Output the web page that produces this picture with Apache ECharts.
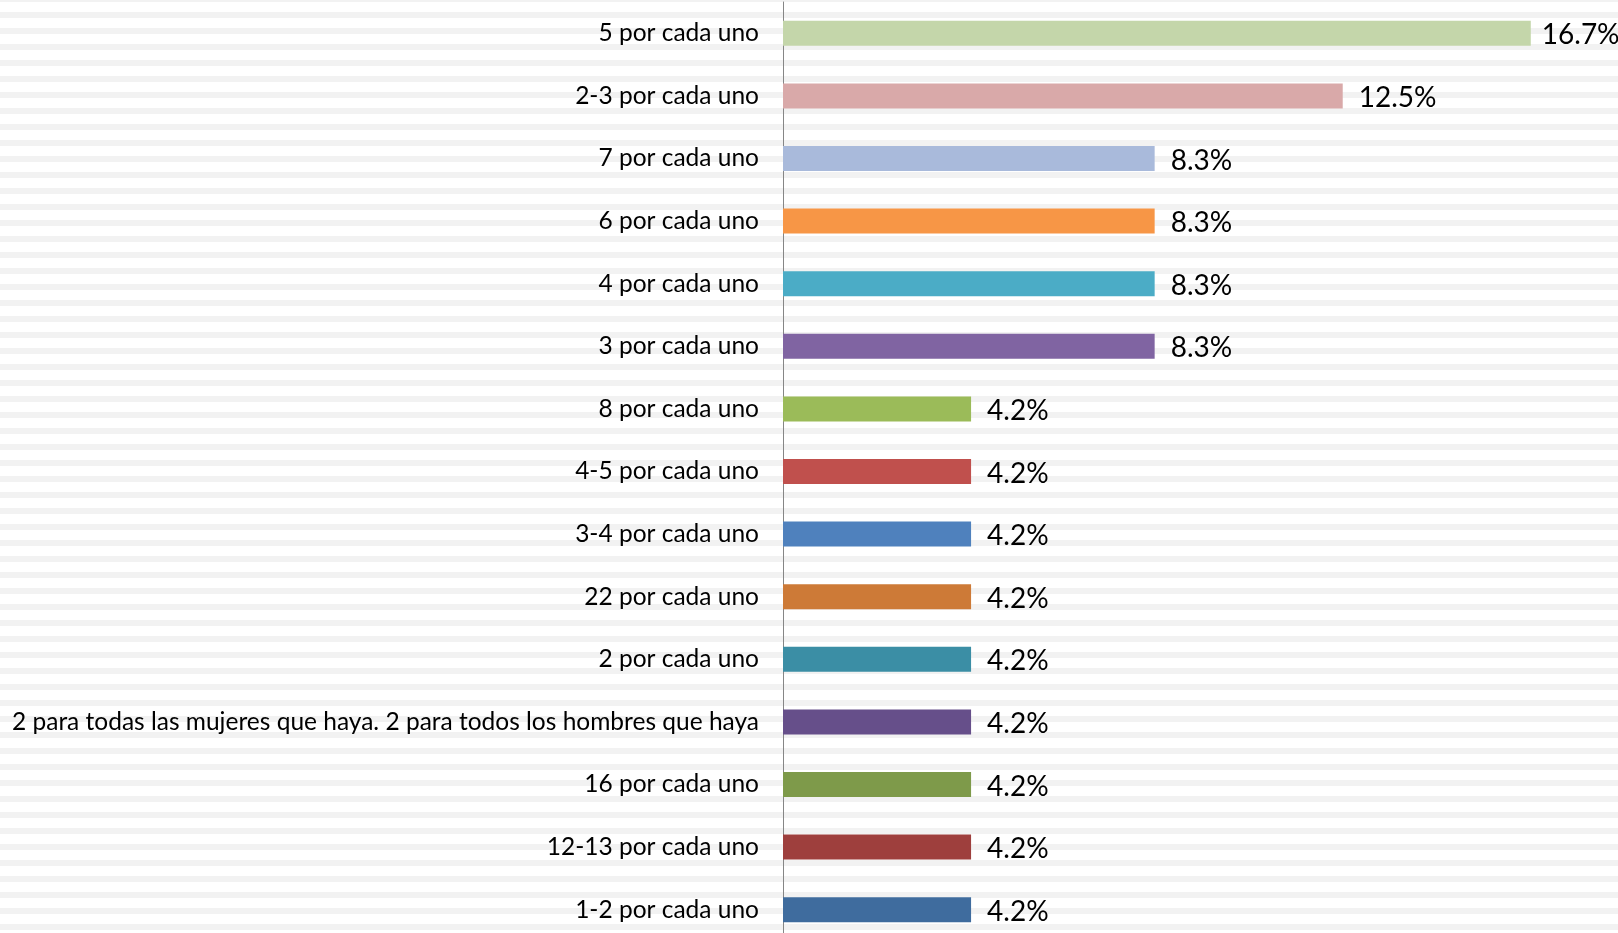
<!DOCTYPE html>
<html>
<head>
<meta charset="utf-8">
<script src="https://cdn.jsdelivr.net/npm/echarts@6/dist/echarts.min.js"></script>
<style>
  html, body { margin: 0; padding: 0; }
  body {
    width: 1618px; height: 933px; overflow: hidden;
    background: repeating-linear-gradient(to bottom, #f2f2f2 0, #f2f2f2 2px, #ffffff 2px, #ffffff 12px, #f2f2f2 12px, #f2f2f2 16px);
  }
  #chart { width: 1618px; height: 933px; }
</style>
</head>
<body>
<div id="chart"></div>
<script>
// categorias, de arriba a abajo
var categorias = [
    '5 por cada uno',
    '2-3 por cada uno',
    '7 por cada uno',
    '6 por cada uno',
    '4 por cada uno',
    '3 por cada uno',
    '8 por cada uno',
    '4-5 por cada uno',
    '3-4 por cada uno',
    '22 por cada uno',
    '2 por cada uno',
    '2 para todas las mujeres que haya. 2 para todos los hombres que haya',
    '16 por cada uno',
    '12-13 por cada uno',
    '1-2 por cada uno'
];
// porcentajes
var valores = [16.7, 12.5, 8.3, 8.3, 8.3, 8.3, 4.2, 4.2, 4.2, 4.2, 4.2, 4.2, 4.2, 4.2, 4.2];
// colores de cada barra
var colores = [
    '#c4d6aa', '#d9a9a9', '#a9badb', '#f79646', '#4bacc6',
    '#8064a2', '#9bbb59', '#c0504d', '#4f81bd', '#cd7a37',
    '#3b8ea5', '#664f8a', '#7e9a4a', '#9e3f3d', '#3f6c9e'
];

var datos = valores.map(function (v, i) {
    var d = { value: v, itemStyle: { color: colores[i] } };
    // la etiqueta de la barra mas larga queda mas pegada (no cabe)
    if (i === 0) d.label = { distance: 11 };
    return d;
});

var chart = echarts.init(document.getElementById('chart'));
var option = {
    animation: false,
    grid: {
        left: 783,
        right: 29,
        top: 2,
        bottom: -8,
        containLabel: false,
        outerBoundsMode: 'none'
    },
    xAxis: {
        type: 'value',
        min: 0,
        max: 18,
        show: false
    },
    yAxis: {
        type: 'category',
        inverse: true,
        data: categorias,
        axisLine: {
            lineStyle: { color: '#868686', width: 1 }
        },
        axisTick: { show: false },
        axisLabel: {
            margin: 24,
            color: '#000',
            fontFamily: 'Lato',
            fontSize: 24.5
        }
    },
    series: [{
        type: 'bar',
        barWidth: 25,
        data: datos,
        label: {
            show: true,
            position: 'right',
            distance: 16,
            color: '#000',
            fontFamily: 'Lato',
            fontSize: 28,
            offset: [0, 2],
            formatter: function (p) { return p.value.toFixed(1) + '%'; }
        }
    }]
};
chart.setOption(option);
</script>
</body>
</html>
